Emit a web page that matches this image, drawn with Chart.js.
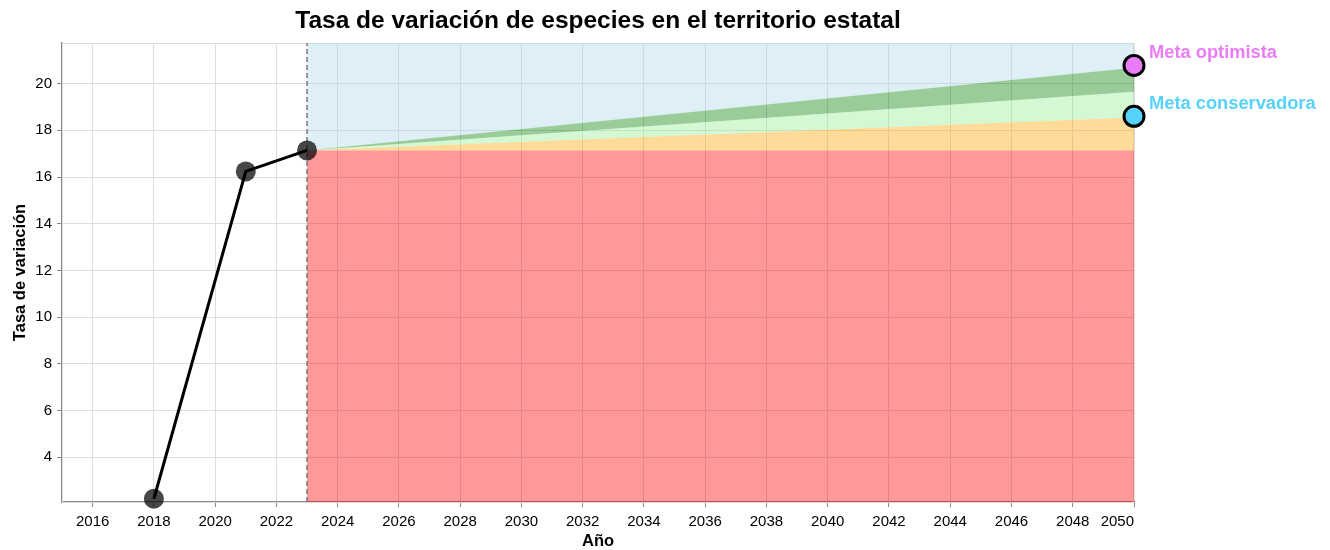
<!DOCTYPE html>
<html>
<head>
<meta charset="utf-8">
<script src="https://cdn.jsdelivr.net/npm/chart.js@4.4.1/dist/chart.umd.min.js"></script>
<style>
  body { margin: 0; background: #fff; }
  canvas { display: block; }
</style>
</head>
<body>
<canvas id="myChart" width="1330" height="550"></canvas>
<script>
// datos observados
const years = [2018, 2021, 2023];
const tasa = [2.22, 16.24, 17.14];

// proyeccion 2023 -> 2050 (limites de cada franja)
const projYears = [2023, 2050];
const limiteRojo = [17.14, 17.14];
const limiteNaranja = [17.14, 18.55];
const limiteVerdeClaro = [17.14, 19.65];
const limiteVerdeOscuro = [17.14, 20.68];

// metas
const metaLabels = ['Meta optimista', 'Meta conservadora'];
const metaYears = [2050, 2050];
const metaValues = [20.78, 18.6];
const metaColors = ['#ea7cf6', '#57d3fb'];

// ejes
const xTicks = [2016, 2018, 2020, 2022, 2024, 2026, 2028, 2030, 2032, 2034, 2036, 2038, 2040, 2042, 2044, 2046, 2048, 2050];
const yTicks = [4, 6, 8, 10, 12, 14, 16, 18, 20];
const xMin = 2015, xMax = 2050;
const yMin = 2.08, yMax = 21.74;

const FONT = "'Liberation Sans', Arial, sans-serif";
Chart.defaults.font.family = FONT;

function toPts(xs, ys) {
    return xs.map((x, i) => ({x: x, y: ys[i]}));
}

function area(ys, color, fill) {
    return {
        data: toPts(projYears, ys),
        backgroundColor: color,
        borderWidth: 0,
        pointRadius: 0,
        fill: fill,
        order: 10
    };
}

const extras = {
    id: 'extras',
    beforeDraw: (chart) => {
        const {ctx} = chart;
        ctx.save();
        ctx.fillStyle = '#ffffff';
        ctx.fillRect(0, 0, chart.width, chart.height);
        ctx.fillStyle = '#000';
        ctx.font = 'bold 24.5px ' + FONT;
        ctx.textAlign = 'center';
        ctx.textBaseline = 'middle';
        const a = chart.chartArea;
        ctx.fillText('Tasa de variación de especies en el territorio estatal', (a.left + a.right) / 2, 21);
        ctx.restore();
    },
    beforeDatasetsDraw: (chart) => {
        const {ctx, chartArea: a} = chart;
        ctx.save();
        ctx.strokeStyle = '#dddddd';
        ctx.lineWidth = 1;
        ctx.strokeRect(a.left + 0.5, a.top + 0.5, a.right - a.left - 1, a.bottom - a.top);
        ctx.restore();
    },
    afterDatasetsDraw: (chart) => {
        const {ctx, scales} = chart;
        ctx.save();
        ctx.font = 'bold 18.3px ' + FONT;
        ctx.textAlign = 'left';
        ctx.textBaseline = 'middle';
        metaLabels.forEach((lbl, i) => {
            const px = scales.x.getPixelForValue(metaYears[i]);
            const py = scales.y.getPixelForValue(metaValues[i]);
            ctx.fillStyle = metaColors[i];
            ctx.fillText(lbl, px + 15, py - 12.5);
        });
        ctx.restore();
    }
};

const ctx = document.getElementById('myChart').getContext('2d');
new Chart(ctx, {
    type: 'line',
    data: {
        datasets: [
            area(limiteRojo, 'rgba(255,0,0,0.4)', 'start'),
            area(limiteNaranja, 'rgba(255,165,0,0.4)', 0),
            area(limiteVerdeClaro, 'rgba(144,238,144,0.4)', 1),
            area(limiteVerdeOscuro, 'rgba(0,128,0,0.4)', 2),
            area(projYears.map(() => yMax), 'rgba(173,216,230,0.4)', 3),
            {
                data: toPts([projYears[0], projYears[0]], [yMin, yMax]),
                borderColor: '#777',
                borderWidth: 1.5,
                borderDash: [5, 3],
                pointRadius: 0,
                fill: false,
                order: 3
            },
            {
                data: toPts(years, tasa),
                showLine: false,
                pointRadius: 10,
                pointBackgroundColor: 'rgba(0,0,0,0.72)',
                pointBorderWidth: 0,
                clip: false,
                order: 2
            },
            {
                data: toPts(years, tasa),
                borderColor: '#000',
                borderWidth: 3,
                pointRadius: 0,
                fill: false,
                clip: false,
                order: 1
            },
            {
                data: toPts(metaYears, metaValues),
                showLine: false,
                pointRadius: 10,
                pointBackgroundColor: metaColors,
                pointBorderColor: '#000',
                pointBorderWidth: 3,
                clip: false,
                order: 0
            }
        ]
    },
    options: {
        responsive: false,
        animation: false,
        events: [],
        layout: { padding: { top: 43, right: 196, left: 0, bottom: 0 } },
        scales: {
            x: {
                type: 'linear',
                min: xMin,
                max: xMax,
                afterBuildTicks: (scale) => { scale.ticks = xTicks.map(v => ({value: v})); },
                afterFit: (scale) => { scale.height = 48; },
                ticks: {
                    color: '#000',
                    font: { size: 15 },
                    padding: 6,
                    maxRotation: 0,
                    autoSkip: false,
                    // la última etiqueta queda alineada al borde derecho
                    callback: (v) => v === xMax ? String(v) + '\u2007\u2007\u2007\u2007' : String(v)
                },
                grid: { color: '#dddddd', tickColor: '#888', tickLength: 5 },
                border: { color: '#888', width: 1.5 },
                title: {
                    display: true,
                    text: 'Año',
                    color: '#000',
                    font: { size: 16.5, weight: 'bold', lineHeight: 1 },
                    padding: { top: 0, bottom: 0 }
                }
            },
            y: {
                type: 'linear',
                min: yMin,
                max: yMax,
                afterBuildTicks: (scale) => { scale.ticks = yTicks.map(v => ({value: v})); },
                afterFit: (scale) => { scale.width = 62; },
                ticks: {
                    color: '#000',
                    font: { size: 15 },
                    padding: 5,
                    callback: (v) => String(v)
                },
                grid: { color: '#dddddd', tickColor: '#888', tickLength: 5 },
                border: { color: '#888', width: 1.5 },
                title: {
                    display: true,
                    text: 'Tasa de variación',
                    color: '#000',
                    font: { size: 16.5, weight: 'bold', lineHeight: 1 },
                    padding: { top: 12.5, bottom: 0 }
                }
            }
        },
        plugins: {
            legend: { display: false },
            tooltip: { enabled: false },
            title: { display: false }
        }
    },
    plugins: [extras]
});
</script>
</body>
</html>
